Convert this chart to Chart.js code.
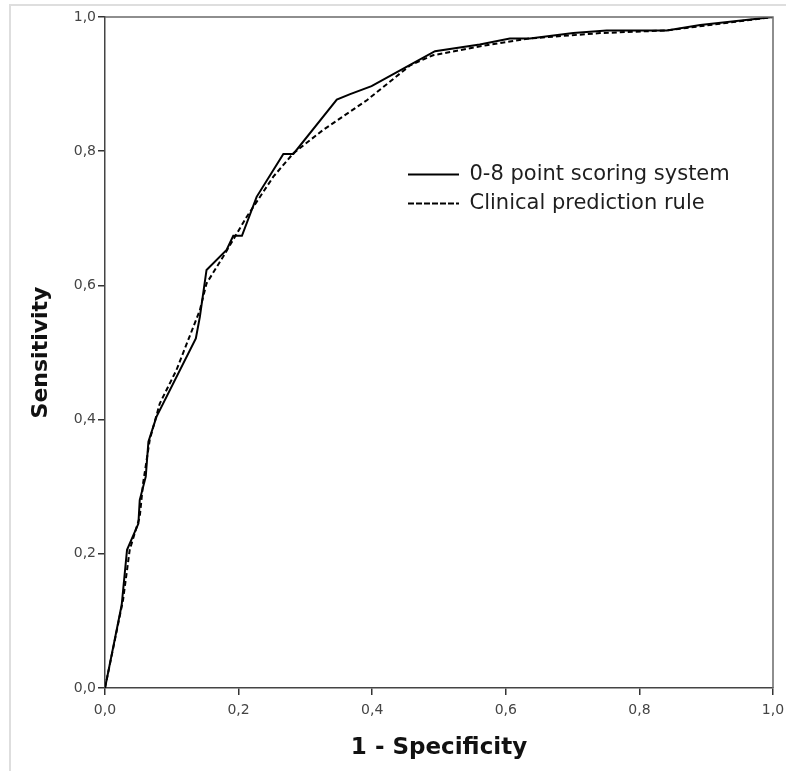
<!DOCTYPE html>
<html>
<head>
<meta charset="utf-8">
<script src="https://cdn.jsdelivr.net/npm/chart.js@4/dist/chart.umd.min.js"></script>
<style>
  html, body { margin: 0; padding: 0; background: #fff; }
  #wrap { position: relative; width: 786px; height: 771px; }
  #frame { position: absolute; left: 9px; top: 4px; right: 0; bottom: 0; border-top: 2px solid #dedede; border-left: 2px solid #dedede; }
  canvas { position: absolute; left: 0; top: 0; }
</style>
</head>
<body>
<div id="wrap"><div id="frame"></div><canvas id="c" width="786" height="771"></canvas></div>
<script>
// Series: 0-8 point scoring system (solid)
const scoringFPR = [0, 0.025, 0.033, 0.050, 0.052, 0.061, 0.065, 0.077, 0.136, 0.142, 0.152, 0.182, 0.192, 0.205, 0.227, 0.267, 0.282, 0.347, 0.367, 0.399, 0.452, 0.494, 0.561, 0.606, 0.636, 0.701, 0.751, 0.841, 0.891, 1];
const scoringTPR = [0, 0.124, 0.206, 0.245, 0.280, 0.315, 0.367, 0.404, 0.521, 0.553, 0.623, 0.653, 0.674, 0.674, 0.732, 0.796, 0.796, 0.877, 0.885, 0.897, 0.926, 0.949, 0.959, 0.968, 0.968, 0.976, 0.980, 0.980, 0.988, 1];
// Series: Clinical prediction rule (dashed)
const ruleFPR = [0, 0.027, 0.037, 0.052, 0.057, 0.067, 0.082, 0.107, 0.142, 0.152, 0.177, 0.212, 0.252, 0.282, 0.327, 0.367, 0.392, 0.457, 0.491, 0.571, 0.636, 0.741, 0.841, 1];
const ruleTPR = [0, 0.131, 0.206, 0.255, 0.305, 0.370, 0.424, 0.474, 0.563, 0.603, 0.643, 0.702, 0.762, 0.797, 0.832, 0.859, 0.876, 0.928, 0.943, 0.958, 0.968, 0.976, 0.980, 1];
const seriesNames = ['0-8 point scoring system', 'Clinical prediction rule'];
const tickValues = [0, 0.2, 0.4, 0.6, 0.8, 1.0];
const xTitle = '1 - Specificity';
const yTitle = 'Sensitivity';

const toPts = (xs, ys) => xs.map((x, i) => ({ x: x, y: ys[i] }));
const fmt = v => Number(v).toFixed(1).replace('.', ',');

const framePlugin = {
  id: 'frameBox',
  afterLayout(chart) {
    const lg = chart.legend;
    if (lg) {
      const w = lg.width, h = lg.height;
      lg.left = 400; lg.top = 156;
      lg.right = lg.left + w; lg.bottom = lg.top + h;
    }
  },
  afterDatasetsDraw(chart) {
    const { ctx, chartArea: a } = chart;
    ctx.save();
    ctx.strokeStyle = '#6a6a6a';
    ctx.lineWidth = 1.5;
    ctx.beginPath();
    ctx.moveTo(a.left, a.top);
    ctx.lineTo(a.right, a.top);
    ctx.lineTo(a.right, a.bottom);
    ctx.stroke();
    ctx.restore();
  }
};

const axisCommon = {
  type: 'linear', min: 0, max: 1,
  grid: { display: true, drawOnChartArea: false, drawTicks: true, tickLength: 7, color: '#333', lineWidth: 1.5 },
  border: { display: true, color: '#444', width: 1.5 },
};

new Chart(document.getElementById('c'), {
  type: 'scatter',
  data: {
    datasets: [
      { label: seriesNames[0], data: toPts(scoringFPR, scoringTPR), showLine: true, borderColor: '#000', backgroundColor: '#000', borderWidth: 2, pointRadius: 0, tension: 0 },
      { label: seriesNames[1], data: toPts(ruleFPR, ruleTPR), showLine: true, borderColor: '#000', backgroundColor: '#000', borderWidth: 2, borderDash: [5, 3], pointRadius: 0, tension: 0 }
    ]
  },
  options: {
    responsive: false,
    animation: false,
    devicePixelRatio: 1,
    layout: { padding: { top: 17, right: 13, left: 0, bottom: 0 } },
    plugins: {
      legend: {
        position: 'chartArea', align: 'start',
        labels: { boxWidth: 51, boxHeight: 0, padding: 8, color: '#1e1e1e', font: { family: 'DejaVu Sans', size: 21 } }
      },
      tooltip: { enabled: false }
    },
    scales: {
      x: Object.assign({}, axisCommon, {
        afterBuildTicks: s => { s.ticks = tickValues.map(v => ({ value: v })); },
        afterFit: s => { s.height = 83; s.paddingLeft = 0; s.paddingRight = 0; },
        ticks: { callback: fmt, padding: 7, color: '#444', font: { family: 'DejaVu Sans', size: 14 }, maxRotation: 0 },
        title: { display: true, text: xTitle, color: '#111', font: { family: 'DejaVu Sans', size: 23, weight: 'bold' }, padding: { top: 0, bottom: 9 } }
      }),
      y: Object.assign({}, axisCommon, {
        afterBuildTicks: s => { s.ticks = tickValues.map(v => ({ value: v })); },
        afterFit: s => { s.width = 105; s.paddingTop = 0; s.paddingBottom = 0; },
        ticks: { callback: fmt, padding: 2, color: '#444', font: { family: 'DejaVu Sans', size: 14 } },
        title: { display: true, text: yTitle, color: '#111', font: { family: 'DejaVu Sans', size: 22, weight: 'bold' }, padding: { top: 28, bottom: 0 } }
      })
    }
  },
  plugins: [framePlugin]
});
</script>
</body>
</html>
